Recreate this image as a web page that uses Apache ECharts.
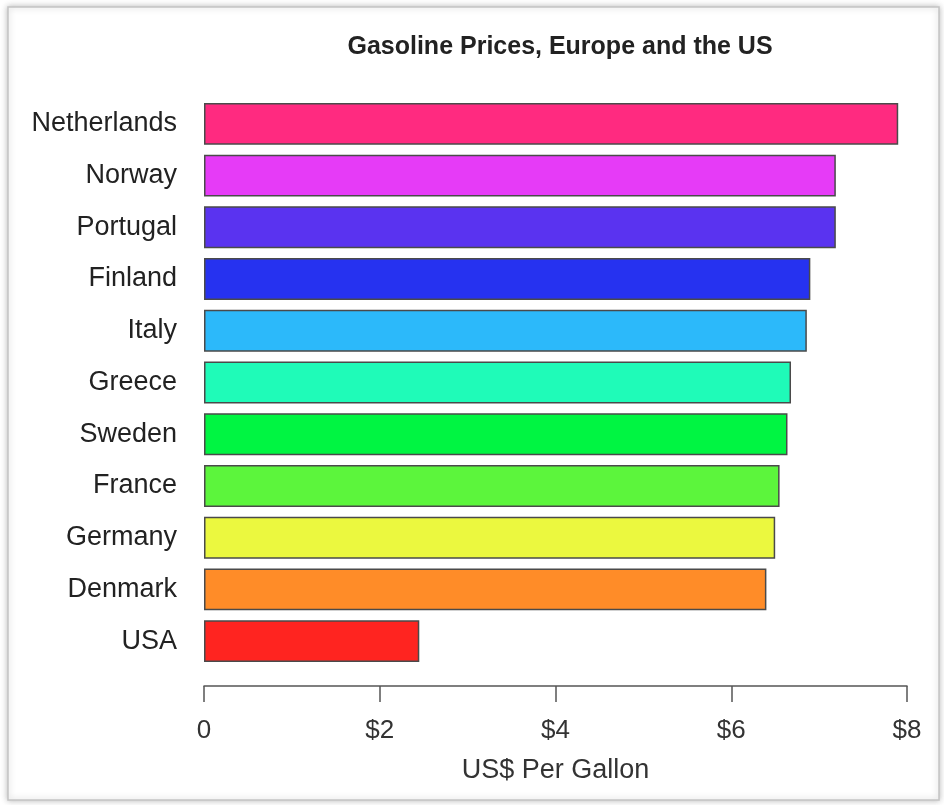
<!DOCTYPE html>
<html>
<head>
<meta charset="utf-8">
<script src="https://cdn.jsdelivr.net/npm/echarts@6/dist/echarts.min.js"></script>
<style>
html,body{margin:0;padding:0;background:#fff;}
#chart{width:944px;height:805px;}
</style>
</head>
<body>
<div id="chart"></div>
<script>
const countries = ["Netherlands","Norway","Portugal","Finland","Italy","Greece","Sweden","France","Germany","Denmark","USA"];
const prices = [7.90, 7.19, 7.19, 6.90, 6.86, 6.68, 6.64, 6.55, 6.50, 6.40, 2.45];
const tickLabels = {0: "0", 2: "$2", 4: "$4", 6: "$6", 8: "$8"};
const barColors = ["#FF2A80","#E63BF7","#5A33F0","#2632F0","#2CB9FA","#1FFBB8","#00F542","#5CF53C","#EBF83F","#FF8C28","#FF2420"];

const chart = echarts.init(document.getElementById('chart'), null, {renderer: 'canvas'});
const FONT = 'Liberation Sans, Arial, Helvetica, sans-serif';
chart.setOption({
  backgroundColor: '#fff',
  animation: false,
  graphic: [{
    type: 'rect',
    shape: {x: 8, y: 7, width: 931, height: 793},
    style: {fill: '#fff', stroke: '#c4c4c4', lineWidth: 1.5, shadowBlur: 6, shadowColor: 'rgba(0,0,0,0.25)'},
    z: -10
  }],
  title: {
    text: 'Gasoline Prices, Europe and the US',
    left: 555,
    top: 30,
    textAlign: 'center',
    textStyle: {fontFamily: FONT, fontSize: 25, fontWeight: 'bold', color: '#222'}
  },
  grid: {left: 204, right: 37, top: 98, bottom: 138},
  xAxis: {
    type: 'value',
    min: 0, max: 8, interval: 2,
    offset: 19,
    name: 'US$ Per Gallon',
    nameLocation: 'middle',
    nameGap: 71,
    nameTextStyle: {fontFamily: FONT, fontSize: 27, color: '#333'},
    axisLine: {show: true, lineStyle: {color: '#555', width: 1.5}},
    axisTick: {show: true, inside: false, length: 16, lineStyle: {color: '#555', width: 1.5}},
    axisLabel: {
      margin: 32,
      fontFamily: FONT, fontSize: 26, color: '#333',
      formatter: v => tickLabels[v] !== undefined ? tickLabels[v] : ''
    },
    splitLine: {show: false}
  },
  yAxis: {
    type: 'category',
    data: countries,
    inverse: true,
    axisLine: {show: false},
    axisTick: {show: false},
    axisLabel: {margin: 27, fontFamily: FONT, fontSize: 27, color: '#222'}
  },
  series: [{
    type: 'bar',
    data: prices.map((v, i) => ({value: v, itemStyle: {color: barColors[i]}})),
    barCategoryGap: '19%',
    itemStyle: {borderColor: '#4a4a4a', borderWidth: 1.5}
  }]
});
</script>
</body>
</html>
